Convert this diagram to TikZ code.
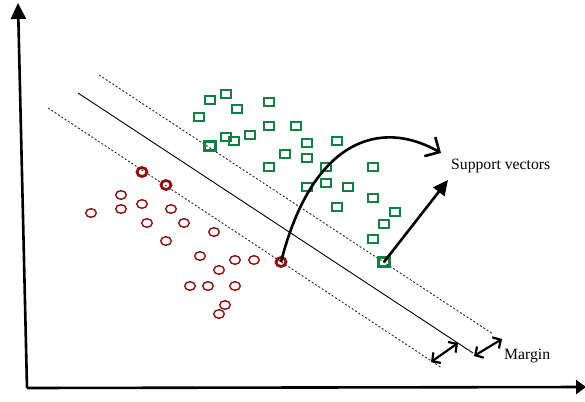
\documentclass[tikz,border=0pt]{standalone}
\usepackage{fontspec}
\setmainfont{Liberation Serif}
\usetikzlibrary{arrows.meta,shapes.geometric}
\definecolor{ptred}{RGB}{140,16,16}
\definecolor{ptgreen}{RGB}{18,128,66}
\tikzset{
  axis/.style={line width=2.6pt,-{Triangle[length=16pt,width=15pt]}},
  classA/.style={draw=ptred,ellipse,line width=1.4pt,minimum width=10.6pt,minimum height=8.6pt,inner sep=0pt},
  classB/.style={draw=ptgreen,rectangle,line width=1.2pt,minimum width=10pt,minimum height=8pt,inner sep=0pt},
  svA/.style={classA,line width=2.8pt,minimum width=10pt,minimum height=9pt},
  svB/.style={classB,line width=2.6pt,minimum width=10.5pt,minimum height=8.5pt},
  hyper/.style={line width=0.9pt},
  marginline/.style={line width=0.9pt,dash pattern=on 2pt off 2pt,black!85},
  marginarrow/.style={line width=2.2pt,{Straight Barb[length=6pt,width=13pt]}-{Straight Barb[length=6pt,width=13pt]}},
  pointer/.style={line width=2.6pt},
  lbl/.style={font=\fontsize{15.7}{18}\selectfont,inner sep=0pt,anchor=base west}
}
\begin{document}
\begin{tikzpicture}[x=1pt,y=-1pt]
\useasboundingbox[fill=white] (0,0) rectangle (585,401);

% axes
\coordinate (origin) at (27,388);
\coordinate (ytop) at (18,3);
\coordinate (xend) at (586,387);
\draw[axis] (origin) -- (ytop);
\draw[axis,-{Triangle[length=10pt,width=14pt]}] (origin) -- (xend);

% separating hyperplane and margin boundaries
\coordinate (h1) at (78,93);   \coordinate (h2) at (473,353);
\coordinate (u1) at (99,75);   \coordinate (u2) at (493,334);
\coordinate (l1) at (48,108);  \coordinate (l2) at (442,368);
\draw[hyper] (h1) -- (h2);
\draw[marginline] (u1) -- (u2);
\draw[marginline] (l1) -- (l2);

% class B (squares)
\foreach \x/\y [count=\i] in {210/100,226/94,237/109,199/117,269/102,269/126,296/126,
  226/137,234/141,250/135,285/154,269/167,307/143,337/141,307/158,326/167,373/167,
  307/187,326/183,348/187,373/198,337/207,395/212,384/224,373/239}
  \node[classB] (b\i) at (\x,\y) {};
\node[svB] (svb1) at (210,146) {};
\node[svB] (svb2) at (384,262) {};

% class A (circles)
\foreach \x/\y [count=\i] in {121/195,121/209,91/213,142/204,171/209,147/223,184/223,
  214/232,166/241,200/256,235/260,254/260,219/270,190/286,208/286,235/286,225/305,219/314}
  \node[classA] (a\i) at (\x,\y) {};
\node[svA] (sva1) at (142,172) {};
\node[svA] (sva2) at (166,185) {};
\node[svA] (sva3) at (281,262) {};

% labels
\node[lbl] (sv) at (451,169) {Support vectors};
\node[lbl] (mg) at (504,359) {Margin};

% pointers to the support vectors
\coordinate (tipA) at (441,153);
\coordinate (tipB) at (448,180);
\draw[pointer,-{Straight Barb[length=11pt,width=22pt]}] (sva3.center) .. controls (312,140) and (380,118) .. (tipA);
\draw[pointer,-{Triangle[length=15pt,width=14pt]}] (svb2.center) -- (tipB);

% margin width arrows
\coordinate (m1a) at (431,362); \coordinate (m1b) at (458,343);
\coordinate (m2a) at (474,356); \coordinate (m2b) at (502,339);
\draw[marginarrow] (m1a) -- (m1b);
\draw[marginarrow] (m2a) -- (m2b);
\end{tikzpicture}
\end{document}
